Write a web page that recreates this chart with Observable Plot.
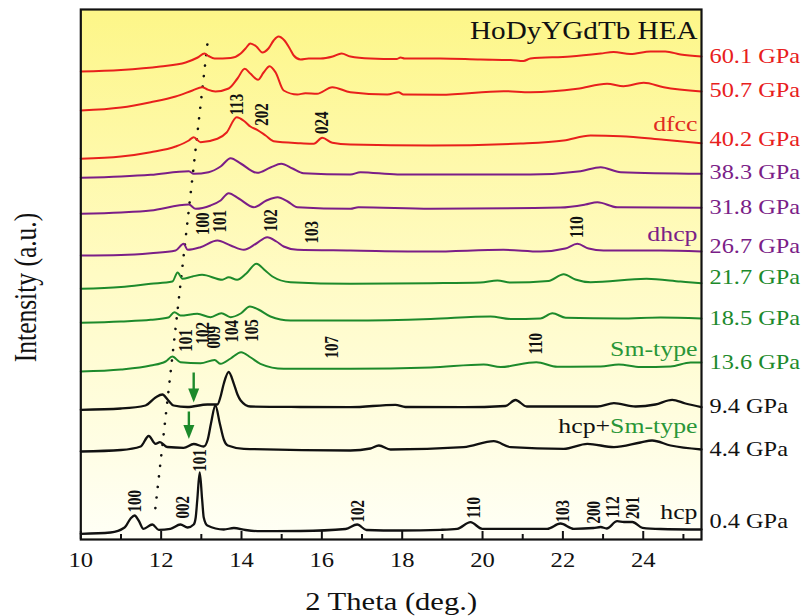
<!DOCTYPE html>
<html>
<head>
<meta charset="utf-8">
<script src="https://cdn.jsdelivr.net/npm/d3@7"></script>
<script src="https://cdn.jsdelivr.net/npm/@observablehq/plot@0.6"></script>
<style>body{margin:0;background:#fff}</style>
</head>
<body>
<div id="chart"></div>
<script>
// ---------- data ----------
const xDomain = [10, 25.45];
const yDomain = [0, 530];
const majorTicks = [10, 12, 14, 16, 18, 20, 22, 24];
const minorTicks = [11, 13, 15, 17, 19, 21, 23, 25];

const pressures = ["60.1 GPa","50.7 GPa","40.2 GPa","38.3 GPa","31.8 GPa","26.7 GPa","21.7 GPa","18.5 GPa","13.6 GPa","9.4 GPa","4.4 GPa","0.4 GPa"];
const pressureLabelY = [483, 449, 400, 367, 332, 293, 262, 221, 177, 133, 90, 18];
const tracePhase = ["dfcc","dfcc","dfcc","dhcp","dhcp","dhcp","Sm","Sm","Sm","hcp","hcp","hcp"];
const phaseColors = {dfcc: "#e8201c", dhcp: "#7b1e87", Sm: "#1d8a2b", hcp: "#111111"};

// [2θ (deg), stacked intensity (a.u.)]
const I60_1 = [[10.00,468],[11.00,469.5],[11.98,473],[12.61,477],[12.91,482],[13.08,486],[13.18,483.5],[13.33,481],[13.73,481.5],[13.98,486],[14.10,491],[14.22,496],[14.37,493],[14.52,487],[14.67,491],[14.80,499],[14.92,503],[15.07,499],[15.20,491],[15.30,484],[15.47,480],[15.67,481],[15.97,481],[16.27,483],[16.49,486],[16.71,483],[17.21,481],[17.86,480.5],[17.96,482],[18.06,481],[18.95,481],[19.95,480],[20.70,479.5],[21.02,478.5],[21.19,481],[22.19,483],[22.94,486],[23.26,487.5],[23.68,485.5],[24.18,488],[24.55,488],[24.93,485],[25.45,483]];
const I50_7 = [[10.00,429],[11.00,432],[11.74,437.3],[12.36,443],[12.78,449],[13.02,452.3],[13.15,450],[13.35,448],[13.68,451],[13.90,461],[14.08,470.7],[14.22,466],[14.41,459.7],[14.55,467],[14.70,473.3],[14.85,467],[15.05,449],[15.39,445],[15.59,446.3],[15.88,445.7],[16.26,452.3],[16.71,447.3],[17.63,445],[17.91,447.3],[18.03,445],[18.95,444.7],[20.52,448.3],[21.19,447.3],[22.36,450.7],[23.10,455.7],[23.51,453.3],[24.01,456.7],[24.51,452.3],[25.45,448]];
const I40_2 = [[10.00,380.7],[11.00,383],[11.74,387.3],[12.36,393],[12.69,399],[12.81,402.3],[12.98,397.3],[13.40,400.7],[13.63,407],[13.88,422.3],[14.08,418],[14.22,413],[14.39,409.7],[14.60,404],[14.80,398.3],[15.47,396.3],[15.80,395.7],[16.01,401.7],[16.26,396.7],[16.71,395],[18.71,394],[20.95,396],[22.02,399],[22.69,404],[23.44,403.3],[24.51,399.7],[25.45,396.3]];
const I38_3 = [[10.00,361.7],[11.00,363],[11.74,364.7],[12.69,368.3],[12.81,365.7],[13.18,367.3],[13.48,373],[13.73,381.3],[13.98,376],[14.39,366.7],[14.72,372],[14.99,375.7],[15.27,371],[15.54,366.3],[16.71,365],[16.96,367.3],[17.88,365],[21.19,365],[22.44,368.3],[22.94,372.3],[23.44,367.3],[25.45,365.7]];
const I31_8 = [[10.00,325.7],[11.00,327],[11.74,329],[12.69,335],[12.86,330.7],[13.23,334],[13.48,339],[13.68,346.3],[13.93,341],[14.31,332.3],[14.62,339],[14.90,342.3],[15.15,338],[15.39,332.3],[16.71,330.7],[16.91,332.3],[18.71,330.7],[21.94,332],[22.56,335],[22.86,337.3],[23.35,332.3],[25.45,331.7]];
const I26_7 = [[10.00,284],[11.00,284.5],[11.74,286.3],[12.36,289],[12.56,295.7],[12.66,289.7],[12.98,292.3],[13.40,299],[13.73,294],[14.06,289.7],[14.37,296],[14.64,302.3],[14.87,298],[15.05,293],[15.39,289.7],[16.71,289],[18.71,288],[20.52,289.7],[21.44,288],[22.06,291],[22.36,295.7],[22.64,291],[23.01,289],[24.43,289],[25.45,288]];
const I21_7 = [[10.00,250.7],[11.00,252.5],[11.74,255.7],[12.28,258],[12.41,267],[12.53,260.7],[12.78,263],[13.02,264.7],[13.52,259.7],[13.68,262.3],[13.89,259.7],[14.12,266],[14.37,275.7],[14.59,269],[14.77,263],[15.22,257.3],[16.71,255.7],[18.71,256.3],[19.95,257],[20.37,259],[20.70,257],[21.64,258.5],[22.02,265.2],[22.31,260],[22.69,257.3],[24.08,260.7],[24.93,258],[25.45,256.3]];
const I18_5 = [[10.00,216.7],[11.00,218],[11.74,219.7],[12.18,222],[12.33,227.3],[12.48,224],[12.90,225.7],[13.23,222.3],[13.50,226.3],[13.73,222.3],[13.98,226],[14.21,233],[14.42,230],[14.72,223],[15.22,219],[16.71,219],[18.71,220.5],[20.20,223],[20.70,220.5],[21.44,221],[21.74,226.3],[22.07,221.7],[23.43,221],[24.43,222],[25.45,221]];
const I13_6 = [[10.00,168],[11.00,170],[11.74,174],[12.11,178],[12.28,183],[12.48,177.3],[12.98,176.3],[13.33,179.5],[13.48,175.7],[13.73,181],[13.99,187.3],[14.23,182],[14.47,175.7],[15.05,170.7],[16.71,170.7],[18.71,172],[20.03,175],[20.45,172.5],[21.34,177.3],[21.86,172.7],[22.94,173],[23.39,175],[23.93,172.5],[24.68,173],[25.18,177],[25.45,177]];
const I9_4 = [[10.00,129.7],[11.00,131],[11.61,134],[11.86,142],[12.03,145],[12.18,139],[12.31,134],[12.65,132.5],[13.15,135],[13.40,135],[13.48,143],[13.56,156],[13.68,167.5],[13.81,155.7],[13.90,145],[13.98,139],[14.22,133],[15.47,132.5],[16.71,132.3],[17.83,134.7],[18.08,132.5],[19.53,132.3],[20.57,133.5],[20.82,139.5],[21.10,133],[22.86,133],[23.27,136.3],[23.81,133],[24.30,135],[24.72,139.7],[25.05,136],[25.45,132.3]];
const I4_4 = [[10.00,88],[11.00,89.5],[11.49,93],[11.69,103.5],[11.86,95.7],[11.97,97.3],[12.15,92.5],[12.56,91.7],[12.81,95.5],[13.06,93],[13.16,100],[13.24,116],[13.35,134],[13.46,116],[13.56,100],[13.66,94],[14.06,90.7],[16.71,89],[17.21,91],[17.42,94],[17.71,90],[19.53,92.3],[20.28,98.3],[20.70,92.3],[22.02,90.7],[22.61,95.7],[23.27,92.3],[23.93,97],[24.22,99],[24.68,94],[25.45,90]];
const I0_4 = [[10.00,5.7],[10.74,7],[11.09,12],[11.24,21],[11.34,24],[11.44,19],[11.56,10.7],[11.78,15],[11.94,9.7],[12.23,10.7],[12.48,15],[12.66,12],[12.81,15],[12.86,22],[12.90,40],[12.96,67],[13.02,40],[13.06,22],[13.15,14],[13.56,10],[13.81,11.5],[14.10,9.5],[14.47,8.3],[15.47,8.5],[16.59,10.5],[16.88,15],[17.11,9.5],[17.96,9],[18.95,9.7],[19.37,10.7],[19.70,17.3],[19.99,10.7],[21.61,10.7],[21.94,16],[22.27,10.7],[22.76,11.5],[22.94,12.5],[23.09,11],[23.35,18.3],[23.52,17.5],[23.73,17.5],[23.98,11.7],[24.43,10.5],[25.45,10]];
const traces = [I60_1, I50_7, I40_2, I38_3, I31_8, I26_7, I21_7, I18_5, I13_6, I9_4, I4_4, I0_4];

// Miller-index annotations
const peakText = ["113","202","024","100","101","102","103","110","101","102","009","104","105","107","110","100","002","101","102","110","103","200","112","201"];
const peakX    = [13.89,14.52,16.02,13.04,13.47,14.74,15.76,22.36,12.63,13.05,13.33,13.77,14.27,16.26,21.34,11.36,12.56,12.98,16.91,19.80,22.01,22.77,23.25,23.75];
const peakY    = [435,425,416.7,315.7,318.3,319,307.3,312.3,199,206.3,202.3,208.3,209,192.3,195.7,38.3,32.3,79,28.3,31.7,28.3,27.3,32.3,31.7];

// phase labels inside the frame (right aligned)
const phaseText  = ["dfcc","dhcp","Sm-type","hcp+Sm-type","hcp"];
const phaseY     = [415.7, 305.7, 190.7, 113, 27.3];
const phaseFill  = ["#e02a22","#7b1e87","#2a9638","#111111","#111111"];

// dotted guide line
const guideX = [13.15, 11.83];
const guideY = [495, 22];

// green arrows
const arrowX = [12.81, 12.69];
const arrowTop = [167, 128];
const arrowBase = [150, 113];
const arrowHead = [144, 107.5];

// ---------- chart ----------
const SX = 1.2; // horizontal stretch of the original figure's lettering
const font = "'Liberation Serif','Times New Roman',serif";
const green = "#1d8a2b";
const downTriangle = {draw(ctx) { ctx.moveTo(-5.5, -7); ctx.lineTo(5.5, -7); ctx.lineTo(0, 7); ctx.closePath(); }};

const marks = [
  Plot.frame({fill: "url(#bgGrad)"}),
  Plot.line(guideX.map((x, i) => ({x, y: guideY[i]})), {x: "x", y: "y", stroke: "#111", strokeWidth: 2.6, strokeDasharray: "0.1,10.5", strokeLinecap: "round"}),
  ...traces.map((t, i) => Plot.line(t, {x: d => d[0], y: d => d[1], stroke: phaseColors[tracePhase[i]], strokeWidth: i >= 9 ? 2.3 : 2, curve: "monotone-x"})),
  Plot.link(arrowX, {x1: d => d, x2: d => d, y1: (d, i) => arrowTop[i], y2: (d, i) => arrowBase[i], stroke: green, strokeWidth: 2.4}),
  Plot.dot(arrowX, {x: d => d, y: (d, i) => arrowHead[i], symbol: downTriangle, fill: green, stroke: "none"}),
  Plot.text(peakText, {x: (d, i) => peakX[i], y: (d, i) => peakY[i], text: d => d, rotate: -90, fontSize: 15, fontWeight: "bold", fill: "#111", textAnchor: "middle", lineAnchor: "middle"}),
  Plot.text(phaseText, {y: (d, i) => phaseY[i], text: d => d, frameAnchor: "right", dx: -4, textAnchor: "end", lineAnchor: "middle", fill: (d, i) => phaseFill[i], fontSize: 21.5}),
  Plot.text(["HoDyYGdTb HEA"], {frameAnchor: "top-right", dx: -4, dy: 22, textAnchor: "end", lineAnchor: "middle", fontSize: 24.3, fill: "#111"}),
  Plot.text(pressures, {y: (d, i) => pressureLabelY[i], text: d => d, frameAnchor: "right", dx: 8, textAnchor: "start", lineAnchor: "middle", fill: (d, i) => phaseColors[tracePhase[i]] === "#111111" ? "#111" : phaseColors[tracePhase[i]], fontSize: 20.3}),
  Plot.ruleX(majorTicks, {x: d => d, y1: 0, y2: 8, stroke: "#111", strokeWidth: 2}),
  Plot.ruleX(minorTicks, {x: d => d, y1: 0, y2: 5, stroke: "#111", strokeWidth: 2}),
  Plot.text(majorTicks, {x: d => d, text: d => String(d), frameAnchor: "bottom", dy: 21, lineAnchor: "middle", fontSize: 20.5, fill: "#111"}),
  Plot.text(["2 Theta (deg.)"], {frameAnchor: "bottom", dy: 62, textAnchor: "middle", lineAnchor: "middle", fontSize: 25.5, fill: "#111"}),
  Plot.text(["Intensity (a.u.)"], {frameAnchor: "left", dx: -55, dy: 13, rotate: -90, textAnchor: "middle", lineAnchor: "middle", fontSize: 25.5, fill: "#111"}),
  Plot.frame({stroke: "#111", strokeWidth: 2.2})
];

const chart = Plot.plot({
  width: 811,
  height: 616,
  marginLeft: 80.3,
  marginRight: 110,
  marginTop: 9,
  marginBottom: 77,
  x: {domain: xDomain, axis: null},
  y: {domain: yDomain, axis: null},
  color: {type: "identity"},
  style: {fontFamily: font, background: "white", overflow: "visible"},
  marks
});

const svg = d3.select(chart);
svg.insert("defs", ":first-child").html(
  '<linearGradient id="bgGrad" x1="0" y1="0" x2="0" y2="1">' +
  '<stop offset="0" stop-color="#fdf688"/>' +
  '<stop offset="0.5" stop-color="#fffbc4"/>' +
  '<stop offset="1" stop-color="#fffff6"/>' +
  '</linearGradient>');

// two-colour phase label
svg.selectAll("text").filter(function() { return this.textContent === "hcp+Sm-type"; }).each(function() {
  const s = d3.select(this);
  s.text(null);
  s.append("tspan").attr("fill", "#111").text("hcp+");
  s.append("tspan").attr("fill", "#2a9638").text("Sm-type");
});

// horizontal stretch of lettering, as in the reference
svg.selectAll("text").each(function() {
  const t = this.getAttribute("transform");
  if (t && /^translate\(/.test(t)) {
    this.setAttribute("transform", t.replace(/^(translate\([^)]*\))/, `$1 scale(${SX},1)`));
  } else {
    const x = +this.getAttribute("x") || 0, y = +this.getAttribute("y") || 0;
    this.removeAttribute("x"); this.removeAttribute("y");
    this.setAttribute("transform", `translate(${x},${y}) scale(${SX},1)`);
  }
});

document.getElementById("chart").appendChild(chart);
</script>
</body>
</html>
